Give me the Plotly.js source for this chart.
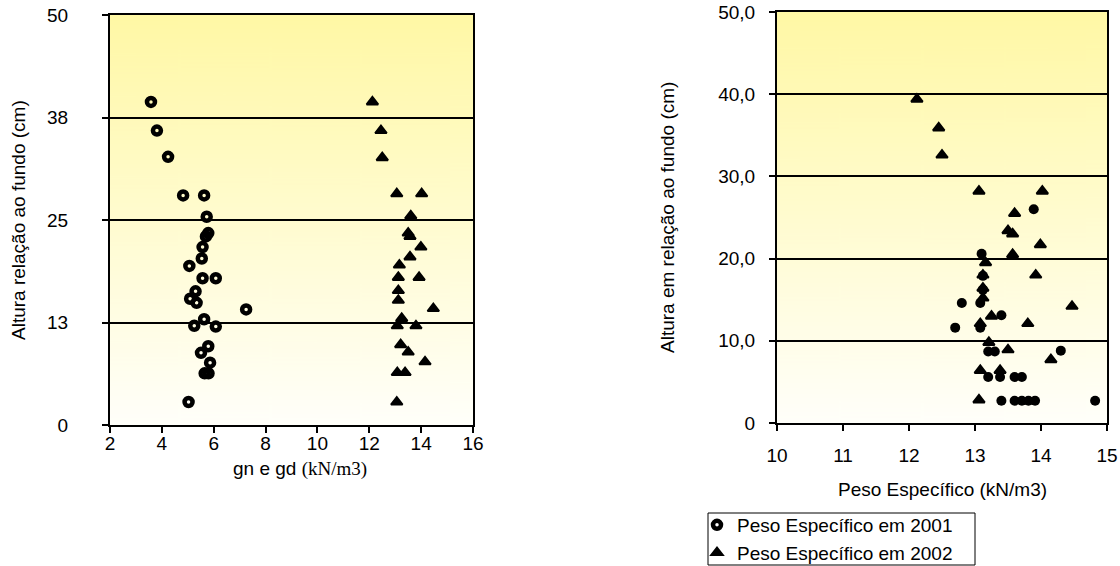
<!DOCTYPE html>
<html>
<head>
<meta charset="utf-8">
<script src="https://cdn.plot.ly/plotly-3.0.1.min.js"></script>
<style>
  html, body { margin: 0; padding: 0; background: #ffffff; }
  #chart { width: 1120px; height: 566px; }
</style>
</head>
<body>
<div id="chart"></div>
<script>
// Unit weight profiles versus height above the bottom (cm)
const pesoX2001 = [3.58, 3.81, 4.24, 4.82, 5.63, 5.73, 5.79, 5.70, 5.57, 5.54, 5.06, 5.57, 6.08, 5.30, 5.09, 5.34, 7.25, 5.63, 5.25, 6.08, 5.79, 5.51, 5.86, 5.65, 5.80, 5.03];
const alturaY2001 = [39.4, 35.9, 32.7, 28.0, 28.0, 25.4, 23.4, 23.0, 21.7, 20.3, 19.4, 17.9, 17.9, 16.3, 15.4, 14.9, 14.1, 12.9, 12.1, 12.0, 9.6, 8.8, 7.6, 6.3, 6.3, 2.8];

const pesoX2002 = [12.12, 12.45, 12.50, 13.06, 14.02, 13.60, 13.50, 13.57, 13.99, 13.57, 13.16, 13.12, 13.92, 13.12, 13.12, 14.47, 13.25, 13.08, 13.80, 13.21, 13.50, 14.15, 13.08, 13.38, 13.06];
const alturaY2002 = [39.4, 35.9, 32.6, 28.2, 28.2, 25.5, 23.4, 23.0, 21.7, 20.5, 19.5, 18.0, 18.0, 16.4, 15.2, 14.2, 13.0, 12.1, 12.1, 9.8, 8.9, 7.7, 6.4, 6.4, 2.8];

const pesoXRef = [13.89, 13.10, 13.12, 13.12, 13.08, 12.80, 13.40, 13.08, 12.70, 13.20, 13.30, 14.30, 13.20, 13.38, 13.60, 13.71, 13.40, 13.60, 13.71, 13.81, 13.91, 14.82];
const alturaYRef = [26.0, 20.6, 17.9, 16.2, 14.6, 14.6, 13.1, 11.6, 11.6, 8.7, 8.7, 8.8, 5.6, 5.6, 5.6, 5.6, 2.7, 2.7, 2.7, 2.7, 2.7, 2.7];

const leftXTicks = [2, 4, 6, 8, 10, 12, 14, 16];
const leftYTicks = [0, 12.5, 25, 37.5, 50];
const leftYLabels = ['0', '13', '25', '38', '50'];
const rightXTicks = [10, 11, 12, 13, 14, 15];
const rightYTicks = [0, 10, 20, 30, 40, 50];
const rightYLabels = ['0', '10,0', '20,0', '30,0', '40,0', '50,0'];

const legendNames = ['Peso Específico em 2001', 'Peso Específico em 2002'];

// Soft yellow-to-white fill for the plotting areas
function gradientURL() {
  const c = document.createElement('canvas');
  c.width = 8; c.height = 400;
  const g = c.getContext('2d');
  const grad = g.createLinearGradient(0, 0, 0, 400);
  grad.addColorStop(0, 'rgb(255,248,165)');
  grad.addColorStop(1, 'rgb(255,255,250)');
  g.fillStyle = grad;
  g.fillRect(0, 0, 8, 400);
  return c.toDataURL('image/png');
}

const W = 1120, H = 566;
const leftDomX = [110 / W, 473 / W];
const leftDomY = [1 - 425 / H, 1 - 15 / H];
const rightDomX = [777 / W, 1107 / W];
const rightDomY = [1 - 423 / H, 1 - 12 / H];
// legend frame (pixels from top-left)
const legBox = { x0: 708, x1: 975, y0: 513, y1: 565 };

const font = { family: '"Liberation Sans", Arial, sans-serif', size: 19, color: '#000' };

const ringMarker = { symbol: 'circle-open', size: 8, color: '#000', line: { color: '#000', width: 4.5 } };
const triMarker = { symbol: 'triangle-up', size: 10, color: '#000', line: { color: '#000', width: 2 } };

const traces = [
  { x: pesoX2001, y: alturaY2001, xaxis: 'x', yaxis: 'y', type: 'scatter', mode: 'markers',
    name: legendNames[0], marker: ringMarker, showlegend: true },
  { x: pesoX2002, y: alturaY2002, xaxis: 'x', yaxis: 'y', type: 'scatter', mode: 'markers',
    name: legendNames[1], marker: triMarker, showlegend: true },
  { x: pesoXRef, y: alturaYRef, xaxis: 'x2', yaxis: 'y2', type: 'scatter', mode: 'markers',
    marker: { symbol: 'circle', size: 10, color: '#000' }, showlegend: false },
  { x: pesoX2002, y: alturaY2002, xaxis: 'x2', yaxis: 'y2', type: 'scatter', mode: 'markers',
    marker: triMarker, showlegend: false }
];

const axisBase = {
  showline: true, linecolor: '#000', linewidth: 2, mirror: true,
  ticks: 'outside', ticklen: 6, tickwidth: 2, tickcolor: '#000',
  zeroline: false, fixedrange: true, tickfont: font
};

const bg = gradientURL();

const titleBase = { xref: 'paper', yref: 'paper', showarrow: false, font: font,
                    xanchor: 'center', yanchor: 'middle' };

const layout = {
  width: W, height: H,
  margin: { l: 0, r: 0, t: 0, b: 0, autoexpand: false },
  paper_bgcolor: '#ffffff',
  plot_bgcolor: 'rgba(0,0,0,0)',
  font: font,
  showlegend: true,
  legend: {
    x: 697 / W, y: 1 - (legBox.y0 + legBox.y1) / 2 / H, xanchor: 'left', yanchor: 'middle',
    bgcolor: 'rgba(0,0,0,0)', borderwidth: 0,
    font: { family: font.family, size: 19, color: '#000' },
    itemwidth: 30, tracegroupgap: 0
  },
  shapes: [
    { type: 'rect', xref: 'paper', yref: 'paper',
      x0: legBox.x0 / W, x1: legBox.x1 / W, y0: 1 - legBox.y1 / H, y1: 1 - legBox.y0 / H,
      line: { color: '#000', width: 1 }, fillcolor: '#ffffff', layer: 'above' }
  ],
  xaxis: Object.assign({}, axisBase, {
    domain: leftDomX, anchor: 'y', range: [2, 16], tickmode: 'array', tickvals: leftXTicks,
    showgrid: false, ticklabelstandoff: -6
  }),
  yaxis: Object.assign({}, axisBase, {
    domain: leftDomY, anchor: 'x', range: [0, 50], tickmode: 'array',
    tickvals: leftYTicks, ticktext: leftYLabels,
    showgrid: true, gridcolor: '#000', gridwidth: 2, ticklabelstandoff: 30
  }),
  xaxis2: Object.assign({}, axisBase, {
    domain: rightDomX, anchor: 'y2', range: [10, 15], tickmode: 'array', tickvals: rightXTicks,
    showgrid: false, ticklabelstandoff: 8
  }),
  yaxis2: Object.assign({}, axisBase, {
    domain: rightDomY, anchor: 'x2', range: [0, 50], tickmode: 'array',
    tickvals: rightYTicks, ticktext: rightYLabels,
    showgrid: true, gridcolor: '#000', gridwidth: 2, ticklabelstandoff: 10
  }),
  images: [
    { source: bg, xref: 'paper', yref: 'paper', x: leftDomX[0], y: leftDomY[1],
      sizex: leftDomX[1] - leftDomX[0], sizey: leftDomY[1] - leftDomY[0],
      xanchor: 'left', yanchor: 'top', sizing: 'stretch', layer: 'below' },
    { source: bg, xref: 'paper', yref: 'paper', x: rightDomX[0], y: rightDomY[1],
      sizex: rightDomX[1] - rightDomX[0], sizey: rightDomY[1] - rightDomY[0],
      xanchor: 'left', yanchor: 'top', sizing: 'stretch', layer: 'below' }
  ],
  annotations: [
    Object.assign({}, titleBase, { text: 'Altura relação ao fundo (cm)',
      x: 18 / W, y: 1 - 220 / H, textangle: -90 }),
    Object.assign({}, titleBase, {
      text: 'gn e gd <span style="font-family:\'Liberation Serif\', \'Times New Roman\', serif">(kN/m3)</span>',
      x: 300 / W, y: 1 - 469 / H }),
    Object.assign({}, titleBase, { text: 'Altura em relação ao fundo (cm)',
      x: 667 / W, y: 1 - 218 / H, textangle: -90 }),
    Object.assign({}, titleBase, { text: 'Peso Específico (kN/m3)',
      x: 942 / W, y: 1 - 489 / H })
  ]
};

Plotly.newPlot('chart', traces, layout, { displayModeBar: false, staticPlot: true });
</script>
</body>
</html>
